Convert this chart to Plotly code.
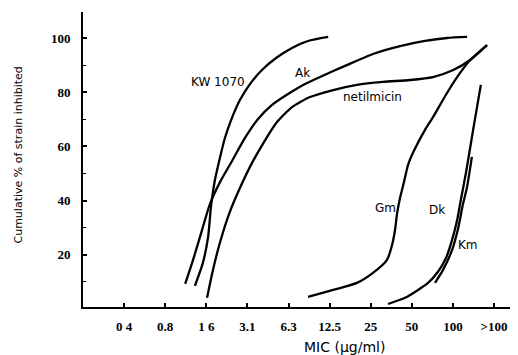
import math
import plotly.graph_objects as go

# MIC (µg/ml) tick labels
tick_labels = ["0 4", "0.8", "1 6", "3.1", "6.3", "12.5", "25", "50", "100", ">100"]
tick_vals = [0.4 * 2 ** k for k in range(10)]

# Cumulative % of strains inhibited vs MIC
kw_mic = [1.32, 1.51, 1.65, 1.73, 1.85, 2.02, 2.19, 2.43, 2.82, 3.34, 4.09, 5.19, 6.79, 8.89, 12.5]
kw_pct = [8.5, 17.0, 26.6, 37.6, 47.6, 56.1, 63.1, 69.7, 77.1, 83.0, 88.2, 92.6, 96.3, 98.9, 100.4]

ak_mic = [1.12, 1.28, 1.49, 1.70, 2.02, 2.47, 3.07, 3.83, 4.85, 6.35, 8.45, 11.3, 16.6, 26.6, 42.0, 64.0, 92.7, 130]
ak_pct = [9.2, 18.1, 29.2, 38.7, 46.9, 54.6, 63.1, 70.1, 75.3, 79.3, 83.0, 86.0, 89.7, 94.1, 97.0, 98.9, 100.0, 100.4]

net_mic = [1.62, 1.79, 2.02, 2.35, 2.82, 3.46, 4.23, 5.27, 6.79, 9.2, 13.6, 20.3, 31.5, 49.7, 73.2, 103, 137, 182]
net_pct = [4.1, 14.4, 24.7, 35.1, 44.6, 53.9, 61.6, 69.0, 74.5, 78.2, 80.8, 82.7, 83.8, 84.5, 85.6, 88.2, 91.9, 97.4]

gm_mic = [8.89, 13.6, 20.3, 26.6, 33.7, 36.7, 38.6, 39.9, 42.0, 44.9, 48.0, 52.2, 64.0, 73.2, 92.7, 115.5, 137, 182]
gm_pct = [4.4, 7.0, 9.6, 13.3, 18.1, 23.6, 29.2, 35.1, 41.0, 46.9, 53.1, 57.6, 66.1, 70.8, 79.7, 87.1, 91.9, 97.4]

dk_mic = [34.3, 45.7, 56.9, 67.3, 79.6, 91.1, 101, 110, 117, 128, 144, 164]
dk_pct = [1.8, 4.1, 7.0, 9.6, 13.7, 18.8, 25.5, 32.8, 40.2, 50.6, 66.1, 82.7]

km_mic = [75.7, 86.7, 101, 112, 121, 130, 141]
km_pct = [9.6, 14.4, 21.8, 29.9, 38.4, 45.0, 56.1]

series = [
    ("KW 1070", kw_mic, kw_pct),
    ("Ak", ak_mic, ak_pct),
    ("netilmicin", net_mic, net_pct),
    ("Gm", gm_mic, gm_pct),
    ("Dk", dk_mic, dk_pct),
    ("Km", km_mic, km_pct),
]

fig = go.Figure()
for name, xs, ys in series:
    fig.add_trace(go.Scatter(
        x=xs, y=ys, mode="lines", name=name,
        line=dict(color="black", width=2.3, shape="spline", smoothing=0.6),
        showlegend=False, hoverinfo="skip",
    ))

# curve labels (x in MIC units; log axis needs log10 for annotations)
labels = [
    ("KW 1070", 1.95, 83.8),
    ("Ak", 8.17, 87.1),
    ("netilmicin", 26.6, 78.2),
    ("Gm", 32.6, 37.3),
    ("Dk", 78.3, 36.5),
    ("Km", 132, 23.6),
]
ann = []
for text, x, y in labels:
    ann.append(dict(x=math.log10(x), y=y, xref="x", yref="y", text=text, showarrow=False,
                    font=dict(family="DejaVu Sans", size=12, color="black"),
                    xanchor="center", yanchor="middle"))

ann.append(dict(x=0, y=0.5, xref="paper", yref="paper", xshift=-65, yshift=4,
                text="Cumulative % of strain inhibited", textangle=-90, showarrow=False,
                font=dict(family="DejaVu Sans", size=11, color="black"),
                xanchor="center", yanchor="middle"))
ann.append(dict(x=0.6, y=0, xref="paper", yref="paper", yshift=-40,
                text="MIC (µg/ml)", showarrow=False,
                font=dict(family="DejaVu Sans", size=14, color="black"),
                xanchor="center", yanchor="middle"))

fig.update_layout(
    width=510, height=347,
    margin=dict(l=75, r=0, t=4, b=48),
    paper_bgcolor="white", plot_bgcolor="white",
    annotations=ann,
    xaxis=dict(
        type="log", range=[-0.699, 2.487],
        tickvals=tick_vals, ticktext=tick_labels,
        showline=True, linecolor="black", linewidth=2,
        ticks="inside", ticklen=4, tickwidth=1.5, tickcolor="black",
        showgrid=False, zeroline=False,
        ticklabelstandoff=6,
        tickfont=dict(family="Liberation Sans Narrow", size=13, color="black", weight="bold"),
    ),
    yaxis=dict(
        range=[0.7, 109.6],
        tickvals=[20, 40, 60, 80, 100],
        showline=True, linecolor="black", linewidth=2,
        ticks="inside", ticklen=4, tickwidth=1.5, tickcolor="black",
        minor=dict(tickvals=[10, 30, 50, 70, 90], ticks="inside", ticklen=3, tickwidth=1, tickcolor="black"),
        showgrid=False, zeroline=False,
        ticklabelstandoff=8,
        tickfont=dict(family="Liberation Sans Narrow", size=13, color="black", weight="bold"),
    ),
)

fig.write_html("out.html")
